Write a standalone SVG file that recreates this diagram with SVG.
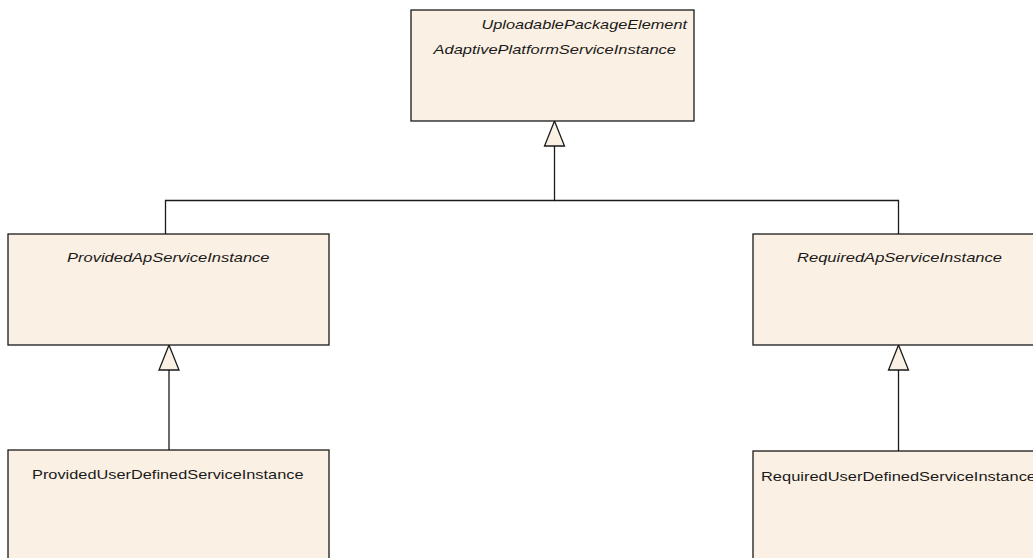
<svg xmlns="http://www.w3.org/2000/svg" width="1033" height="558" viewBox="0 0 1033 558">
<style>
.box{fill:#FAF0E3;stroke:#1a1a1a;stroke-width:1.3}
.t{font-family:"Liberation Sans",Arial,sans-serif;font-size:13.5px;fill:#1a1a1a}
.i{font-style:italic}
.c{fill:none;stroke:#1a1a1a;stroke-width:1.3}
.h{fill:#FAF0E3;stroke:#1a1a1a;stroke-width:1.3}
</style>
<rect width="1033" height="558" fill="#ffffff"/>
<g id="connectors">
<polyline class="c" points="554.5,146 554.5,200.5 165.5,200.5 165.5,234"/>
<polyline class="c" points="554.5,200.5 898.5,200.5 898.5,234"/>
<polygon class="h" points="554.5,121 544.5,146 564.5,146"/>
<line class="c" x1="169" y1="370" x2="169" y2="450"/>
<polygon class="h" points="169,345 159,370 179,370"/>
<line class="c" x1="898.5" y1="370" x2="898.5" y2="451"/>
<polygon class="h" points="898.5,345 888.5,370 908.5,370"/>
</g>
<g id="AdaptivePlatformServiceInstance">
<rect class="box" x="411" y="10" width="283" height="111"/>
<text class="t i" x="687" y="29" text-anchor="end" textLength="205.5" lengthAdjust="spacingAndGlyphs">UploadablePackageElement</text>
<text class="t i" x="433.5" y="54" textLength="242.5" lengthAdjust="spacingAndGlyphs">AdaptivePlatformServiceInstance</text>
</g>
<g id="ProvidedApServiceInstance">
<rect class="box" x="8" y="234" width="321" height="111"/>
<text class="t i" x="67" y="262" textLength="202.5" lengthAdjust="spacingAndGlyphs">ProvidedApServiceInstance</text>
</g>
<g id="RequiredApServiceInstance">
<rect class="box" x="753" y="234" width="292" height="111"/>
<text class="t i" x="797" y="262" textLength="205" lengthAdjust="spacingAndGlyphs">RequiredApServiceInstance</text>
</g>
<g id="ProvidedUserDefinedServiceInstance">
<rect class="box" x="8" y="450" width="321" height="120"/>
<text class="t" x="32" y="478.5" textLength="271.5" lengthAdjust="spacingAndGlyphs">ProvidedUserDefinedServiceInstance</text>
</g>
<g id="RequiredUserDefinedServiceInstance">
<rect class="box" x="753" y="451" width="292" height="120"/>
<text class="t" x="761" y="480.5" textLength="275" lengthAdjust="spacingAndGlyphs">RequiredUserDefinedServiceInstance</text>
</g>
</svg>
